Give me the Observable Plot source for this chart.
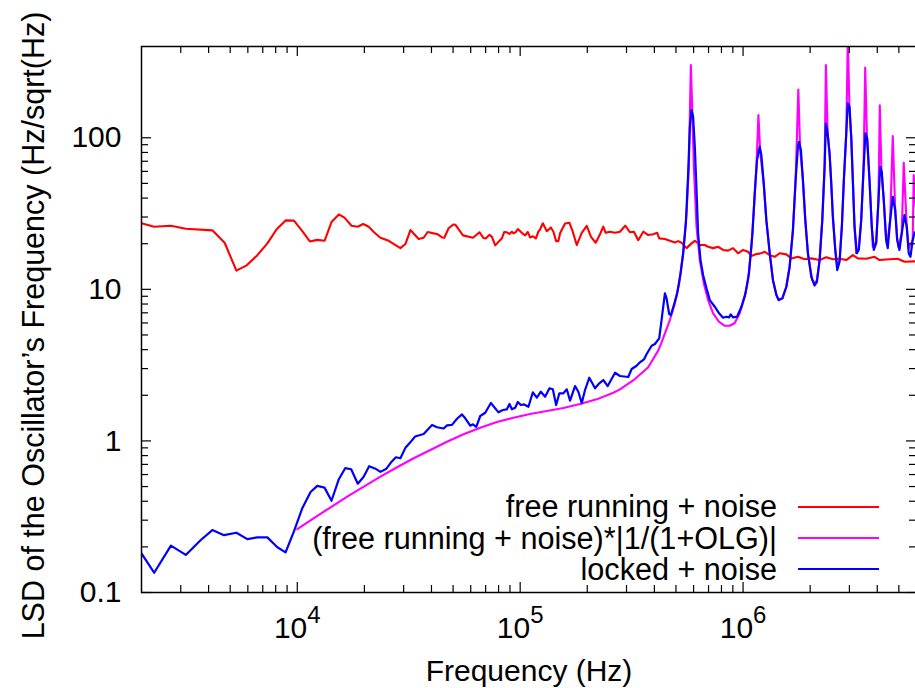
<!DOCTYPE html>
<html><head><meta charset="utf-8">
<script src="https://cdn.jsdelivr.net/npm/d3@7"></script>
<script src="https://cdn.jsdelivr.net/npm/@observablehq/plot@0.6"></script>
<style>
html,body{margin:0;padding:0;background:#fff;overflow:hidden;}
#wrap{position:relative;width:915px;height:688px;overflow:hidden;font-family:"Liberation Sans",Arial,sans-serif;}
#legend{position:absolute;left:0;top:491px;width:879px;font-size:30.6px;color:#000;}
.row{display:flex;justify-content:flex-end;align-items:center;height:31.3px;}
.row .t{line-height:1;white-space:nowrap;}
.row .s{display:block;width:81px;height:2px;margin-left:21px;}
</style></head><body><div id="wrap"><div id="legend"></div></div>
<script>
// ---- data ----
const redFreq = [2000,2280,2710,3160,4160,4720,5330,5930,6620,7340,8080,8860,9660,10530,11390,12290,13250,14240,15360,16280,17510,18680,19750,20920,22030,23600,25720,29010,30550,32170,35040,36890,38440,40900,42360,44610,45660,47740,50270,51160,55380,61400,65720,68480,70200,72860,74680,77270,82790,84780,87170,89540,91800,93320,95650,97630,101700,105300,108200,110800,114000,117600,120700,122900,126400,131700,137300,141000,145000,148400,151100,159000,166200,172200,179400,188900,198900,207900,218300,228100,236000,241900,252900,266300,280400,296100,310800,323800,338700,356600,375400,395300,411900,420500,446000,469500,494300,511500,529700,557800,587200,607500,639700,673600,697000,733800,772700,813600,856500,901800,949500,1000000,1053000,1090000,1148000,1188000,1251000,1317000,1387000,1460000,1564000,1647000,1765000,1889000,2024000,2205000,2363000,2529000,2710000,2904000,3109000,3273000,3569000,3888000,4093000,4538000,4943000,5297000,5872000,6000000];
const redLsd = [27.3,25.9,26.3,25.1,24.5,20.3,13.3,14.4,16.8,20.1,24.9,28.5,28.4,24.2,20.7,21.2,20.9,27.8,31.2,29.7,26.3,25.9,27.0,25.9,23.9,21.9,20.9,18.7,19.9,24.6,21.5,21.9,23.9,23.4,23.2,22.0,21.9,25.3,26.8,26.7,22.7,21.9,23.8,21.8,21.7,22.9,22.2,19.5,21.7,23.9,23.8,23.2,24.0,23.4,23.9,25.0,23.6,22.7,23.9,22.0,22.4,21.7,24.0,24.9,27.3,24.2,25.6,24.0,20.8,20.8,23.5,27.2,27.5,24.0,19.6,23.6,26.2,22.2,20.3,23.1,25.9,23.6,24.0,23.6,24.0,26.3,23.8,24.0,21.1,24.0,22.8,23.1,23.6,21.7,21.5,20.9,20.4,20.8,20.3,18.7,20.1,20.9,19.6,19.6,19.1,18.7,19.1,18.2,18.0,18.7,17.3,18.2,17.7,16.6,17.1,17.2,17.7,16.8,16.4,17.3,17.0,16.0,16.4,15.8,16.0,15.6,16.3,15.8,15.9,15.6,16.8,16.0,15.9,16.4,15.6,15.8,15.9,15.2,15.3,15.3];

const magFreq = [10000,11870,14100,16750,19880,23600,28040,33280,39540,46960,55720,66200,78640,93320,110800,131700,156200,185600,220500,261700,280400,327300,375400,416100,432000,446000,469500,494300,516800,538600,557800,571200,583200,591000,601400,618300,639700,666600,697000,733800,780600,827800,871600,917700,966300,1017600,1053000,1090000,1120000,1148000,1172000,1194000,1238000,1272000,1317000,1362000,1411000,1444000,1501000,1564000,1618000,1674000,1721000,1770000,1803000,1856000,1902000,1954000,2044000,2094000,2144000,2205000,2267000,2322000,2353000,2394000,2444000,2487000,2529000,2592000,2646000,2710000,2775000,2833000,2904000,2951000,3004000,3057000,3108000,3163000,3219000,3306000,3389000,3470000,3532000,3598000,3692000,3780000,3819000,3956000,4051000,4106000,4178000,4278000,4385000,4430000,4571000,4695000,4813000,4914000,4980000,5152000,5259000,5424000,5536000,5771000,5830000,5950000];
const magLsd = [0.262,0.309,0.365,0.429,0.499,0.581,0.67,0.768,0.871,0.988,1.106,1.222,1.332,1.423,1.505,1.576,1.65,1.75,1.88,2.08,2.19,2.56,3.06,3.94,4.5,5.13,6.27,8.08,10.95,17.3,31.7,64.4,302,160,64.4,25.9,15.6,10.95,8.5,6.95,6.11,5.75,5.75,6.0,6.95,8.94,11.5,19.1,35.1,64.4,141,80,50,28.6,17.3,11.5,9.17,8.5,8.72,10.4,14.1,24.6,52.6,208,85,52.6,28.6,17.3,11.5,10.9,11.5,15.6,28.6,64.4,302,110,78.9,50,30.1,18.5,14.1,15.5,25.9,52.6,107,450,150,101,52.6,25.9,17.3,18.5,28.6,61.2,291,100,52.6,25.9,19.1,20.5,38.8,164,60,38.8,21.5,19.6,28.6,102.6,34,21.5,19.1,23.4,68.4,26,18.7,21.2,56.8,35];

const blueFreq = [2000,2280,2710,3160,3690,4160,4690,5330,5970,6620,7340,8140,8860,9660,10530,11470,12290,13250,14240,15360,16400,17450,18680,19820,21010,22420,23600,25110,26300,27700,29010,30550,32070,33770,36890,40230,42360,45340,46960,49450,52060,54820,56700,59700,61400,63520,66200,69700,73900,79940,83670,87170,89540,91800,94960,97630,100700,104200,108900,114000,118800,123800,129400,135300,140100,145000,149900,156200,161900,167400,176300,182400,188900,195400,204300,216700,226500,236000,247000,266400,280400,305400,316300,333000,344600,360300,369300,388900,402300,420500,430900,446000,453800,466100,474400,489400,506300,524400,538600,553800,567100,577100,587200,597000,607500,618300,628500,644400,662000,685500,709100,746700,780600,813600,842400,865400,880700,901800,939700,983300,1025000,1063000,1102000,1128000,1155000,1188000,1208000,1238000,1272000,1317000,1362000,1411000,1444000,1501000,1564000,1618000,1674000,1721000,1763000,1781000,1818000,1856000,1902000,1954000,2024000,2094000,2144000,2205000,2267000,2322000,2353000,2387000,2444000,2487000,2529000,2592000,2646000,2710000,2775000,2833000,2904000,2951000,3004000,3057000,3108000,3163000,3239000,3306000,3389000,3470000,3542000,3606000,3692000,3780000,3859000,3956000,4051000,4123000,4191000,4278000,4385000,4458000,4571000,4695000,4813000,4914000,5031000,5152000,5297000,5424000,5536000,5636000,5771000,5872000,6050000];
const blueLsd = [0.181,0.135,0.204,0.177,0.222,0.258,0.239,0.248,0.225,0.231,0.231,0.199,0.184,0.253,0.36,0.46,0.505,0.492,0.403,0.559,0.661,0.65,0.522,0.578,0.681,0.656,0.625,0.656,0.72,0.78,0.768,0.90,0.975,1.07,1.111,1.274,1.23,1.207,1.267,1.275,1.40,1.495,1.41,1.26,1.287,1.24,1.46,1.535,1.78,1.544,1.60,1.616,1.752,1.616,1.656,1.806,1.725,1.74,1.681,2.093,1.928,2.112,1.957,2.224,2.19,1.725,2.061,2.061,2.19,1.842,2.302,2.112,1.771,2.167,2.612,2.224,2.399,2.522,2.302,2.818,2.681,2.64,2.98,3.134,3.301,3.47,3.744,4.246,4.357,4.75,6.27,9.41,8.72,6.87,6.77,7.88,9.41,12.75,17.3,27.3,58.2,118.2,152.3,137.6,87.2,45.2,23.4,15.6,12.4,10.15,8.5,7.68,6.95,6.5,6.6,6.53,6.84,6.53,6.6,7.68,9.41,12.75,23.4,43.0,71.3,87.2,76.9,50.0,28.6,17.3,11.5,9.17,8.5,8.72,10.4,14.1,24.6,52.6,87.2,94.1,82.9,52.6,28.6,17.3,12.1,10.6,11.2,15.6,28.6,64.4,124,112,78.9,50,30.1,18.2,13.4,15.2,25.9,52.6,107,168.6,160,101.5,52.6,25.9,17.3,18.2,28.6,61.2,107,99.1,52.6,25.9,18.2,20.1,38.8,64.4,59.7,38.8,21.2,18.7,28.6,40.8,33.4,21.2,18.2,23.4,30.9,25.9,17.3,16.4,21.2,23.4,25];

const xMajorTicks = [1e4, 1e5, 1e6];
const xMinorTicks = [3000,4000,5000,6000,7000,8000,9000,2e4,3e4,4e4,5e4,6e4,7e4,8e4,9e4,2e5,3e5,4e5,5e5,6e5,7e5,8e5,9e5,2e6,3e6,4e6,5e6];
const yMajorTicks = [0.1, 1, 10, 100];
const yMinorTicks = [0.2,0.3,0.4,0.5,0.6,0.7,0.8,0.9,2,3,4,5,6,7,8,9,20,30,40,50,60,70,80,90];

const xLabel = "Frequency (Hz)";
const yLabel = "LSD of the Oscillator\u2019s Frequency (Hz/sqrt(Hz)";
const legendLabels = ["free running + noise", "(free running + noise)*|1/(1+OLG)|", "locked + noise"];
const legendColors = ["#ff0000", "#ff00ff", "#0000ff"];

// ---- chart ----
const W = 917, H = 688, mL = 141, mR = 1, mT = 46, mB = 96;
const innerW = W - mL - mR, innerH = H - mT - mB;
const rows = (fs, vs) => fs.map((f, i) => ({f, v: vs[i]}));
const red = rows(redFreq, redLsd), mag = rows(magFreq, magLsd), blue = rows(blueFreq, blueLsd);
const tickStyle = {stroke: "black", strokeWidth: 1.2};

const chart = Plot.plot({
  width: W, height: H,
  marginLeft: mL, marginRight: mR, marginTop: mT, marginBottom: mB,
  style: {fontFamily: '"Liberation Sans", Arial, sans-serif', fontSize: "30px", background: "white", maxWidth: "none", color: "black"},
  x: {type: "log", domain: [2000, 6e6]},
  y: {type: "log", domain: [0.1, 400]},
  marks: [
    Plot.line(red, {x: "f", y: "v", stroke: legendColors[0], strokeWidth: 2.1, clip: true}),
    Plot.line(mag, {x: "f", y: "v", stroke: legendColors[1], strokeWidth: 2.1, clip: true}),
    Plot.line(blue, {x: "f", y: "v", stroke: legendColors[2], strokeWidth: 2.2, clip: true}),
    // inward ticks on all four sides
    Plot.tickX(xMinorTicks, {x: d => d, insetTop: innerH - 7, ...tickStyle}),
    Plot.tickX(xMinorTicks, {x: d => d, insetBottom: innerH - 7, ...tickStyle}),
    Plot.tickX(xMajorTicks, {x: d => d, insetTop: innerH - 10, ...tickStyle}),
    Plot.tickX(xMajorTicks, {x: d => d, insetBottom: innerH - 10, ...tickStyle}),
    Plot.tickY(yMinorTicks, {y: d => d, insetRight: innerW - 7, ...tickStyle}),
    Plot.tickY(yMinorTicks, {y: d => d, insetLeft: innerW - 7, ...tickStyle}),
    Plot.tickY(yMajorTicks, {y: d => d, insetRight: innerW - 10, ...tickStyle}),
    Plot.tickY(yMajorTicks, {y: d => d, insetLeft: innerW - 10, ...tickStyle}),
    Plot.axisX({ticks: xMajorTicks, tickSize: 0, tickPadding: 24, label: null, fontSize: 30,
                tickFormat: d => "10^" + Math.round(Math.log10(d))}),
    Plot.axisY({ticks: yMajorTicks, tickSize: 0, tickPadding: 20, label: null, fontSize: 30,
                tickFormat: d => String(d)}),
    Plot.text([xLabel], {text: d => d, frameAnchor: "bottom", lineAnchor: "top", dy: 67, fontSize: 30}),
    Plot.text([yLabel], {text: d => d, frameAnchor: "left", rotate: -90, lineAnchor: "top", textAnchor: "middle", dx: -119, dy: 6, fontSize: 30.5}),
    Plot.frame({stroke: "black", strokeWidth: 1.5})
  ]
});

// superscript exponents on the x tick labels
chart.querySelectorAll('g[aria-label="x-axis tick label"] text').forEach(t => {
  const parts = t.textContent.split("^");
  if (parts.length !== 2) return;
  t.textContent = parts[0];
  const ts = document.createElementNS("http://www.w3.org/2000/svg", "tspan");
  ts.setAttribute("dy", "-15");
  ts.setAttribute("font-size", "24");
  ts.textContent = parts[1];
  t.appendChild(ts);
});

const wrap = document.getElementById("wrap");
wrap.insertBefore(chart, wrap.firstChild);

// legend
const legend = document.getElementById("legend");
legendLabels.forEach((lab, i) => {
  const row = document.createElement("div");
  row.className = "row";
  const t = document.createElement("span");
  t.className = "t"; t.textContent = lab;
  const s = document.createElement("span");
  s.className = "s"; s.style.background = legendColors[i];
  row.appendChild(t); row.appendChild(s);
  legend.appendChild(row);
});
</script>
</body></html>
